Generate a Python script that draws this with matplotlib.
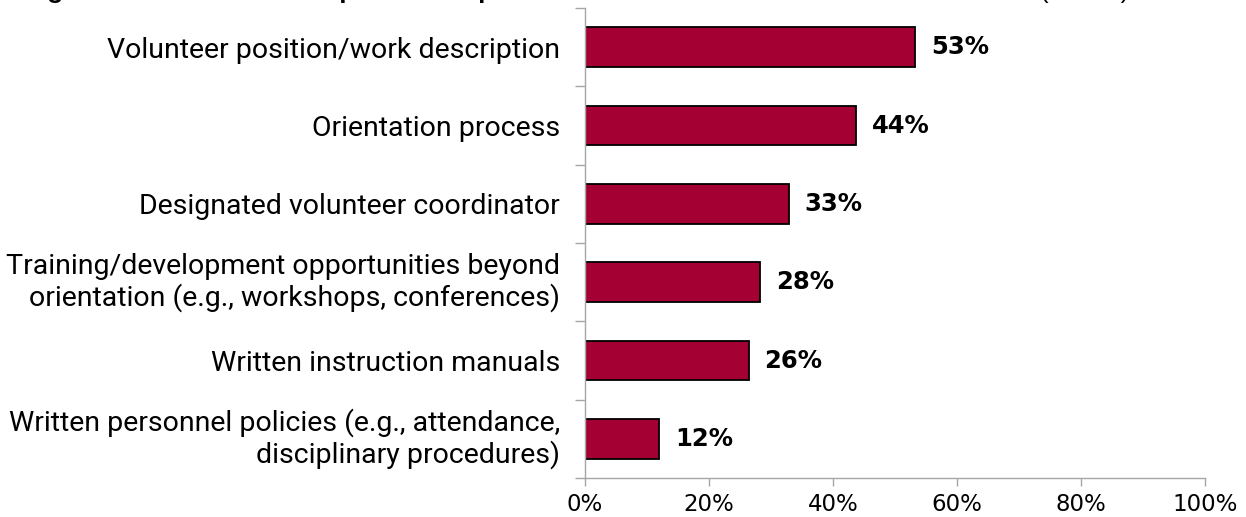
import matplotlib
matplotlib.use("Agg")
import matplotlib.pyplot as plt
from matplotlib.ticker import FixedLocator, PercentFormatter

# Data (top to bottom as drawn)
categories = [
    "Volunteer position/work description",
    "Orientation process",
    "Designated volunteer coordinator",
    "Training/development opportunities beyond\norientation (e.g., workshops, conferences)",
    "Written instruction manuals",
    "Written personnel policies (e.g., attendance,\ndisciplinary procedures)",
]
values = [53.3, 43.7, 32.9, 28.3, 26.4, 12.0]
value_labels = ["53%", "44%", "33%", "28%", "26%", "12%"]
x_ticks = [0, 20, 40, 60, 80, 100]

BAR_COLOR = "#A50034"
AXIS_GRAY = "#A6A6A6"
LABEL_FONT = "Roboto"
NUM_FONT = "DejaVu Sans"

fig = plt.figure(figsize=(12.46, 5.17), dpi=100)
ax = fig.add_axes([0.4695, 0.0754, 0.4976, 0.9091])

n = len(categories)
ypos = list(range(n))
ax.barh(ypos, values, height=0.51, color=BAR_COLOR, edgecolor="black", linewidth=1.3)

for y, v, lab in zip(ypos, values, value_labels):
    ax.text(v + 2.5, y, lab, va="center", ha="left", fontsize=17.5,
            fontweight="bold", family=NUM_FONT, color="black")

ax.set_xlim(0, 100)
ax.set_ylim(n - 0.5, -0.5)
ax.set_xticks(x_ticks)
ax.xaxis.set_major_formatter(PercentFormatter(decimals=0))

ax.set_yticks(ypos)
ax.set_yticklabels(categories, fontsize=20.5, family=LABEL_FONT, linespacing=1.15)
for lbl in ax.get_yticklabels():
    if "\n" in lbl.get_text():
        lbl.set_va("center")
ax.yaxis.set_minor_locator(FixedLocator([i - 0.5 for i in range(n + 1)]))
ax.tick_params(axis="y", which="major", length=0, pad=18)
ax.tick_params(axis="y", which="minor", length=7, color=AXIS_GRAY, width=1)
ax.tick_params(axis="x", length=6, color=AXIS_GRAY, width=1, labelsize=16.5, pad=5)
for lbl in ax.get_xticklabels():
    lbl.set_family(NUM_FONT)

for side in ["top", "right"]:
    ax.spines[side].set_visible(False)
for side in ["left", "bottom"]:
    ax.spines[side].set_color(AXIS_GRAY)
    ax.spines[side].set_linewidth(1)

# title sits mostly above the visible area, as in the source crop
fig.text(0.0193, 1.003, "Figure 10: Volunteer Components Implemented at Member Stations and Schools",
         ha="left", va="baseline", fontsize=18.7, fontweight="bold", family="Liberation Sans")
fig.text(0.8339, 1.003, "(n=132)", ha="left", va="baseline", fontsize=18.7, family="Liberation Sans")

fig.savefig("out.png", dpi=100)
